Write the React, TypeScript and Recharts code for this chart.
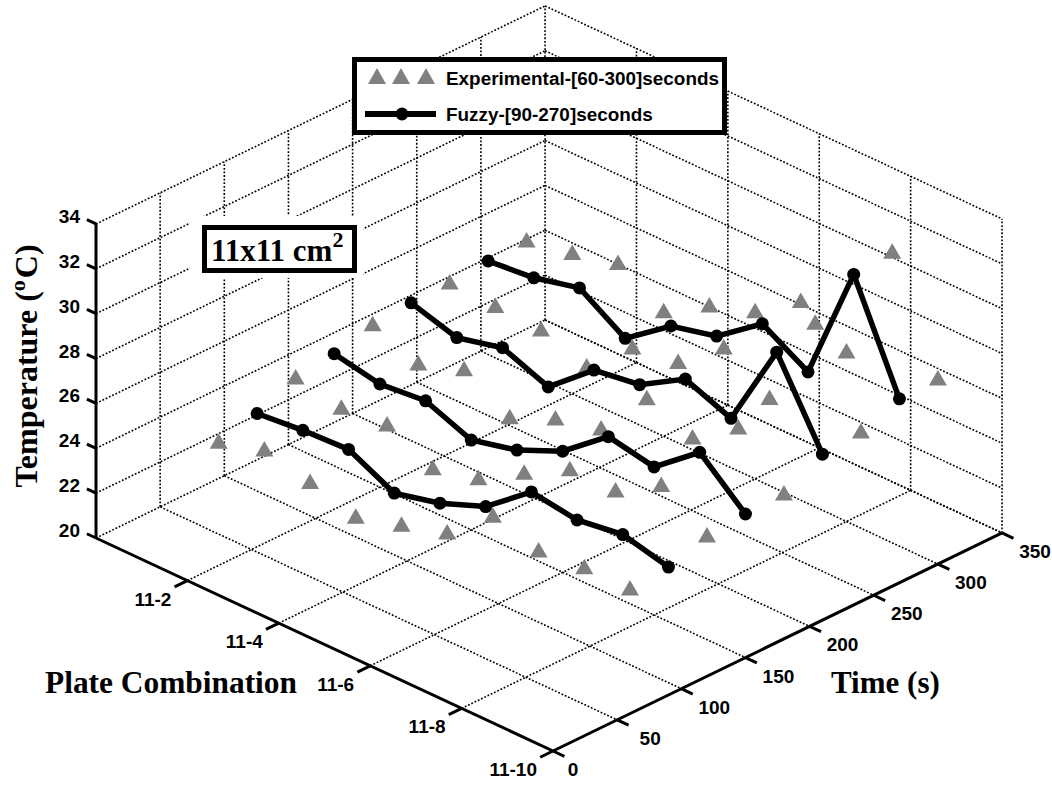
import React from 'react';
import { ScatterChart, Scatter, XAxis, YAxis, Legend } from 'recharts';

// plate number along one axis (11-1 ... 11-10)
const plates = [1, 2, 3, 4, 5, 6, 7, 8, 9, 10];

const exp60 = [23.6, 24.2, 23.7, 23.1, 23.7, 24.3, 26.0, 25.4, 25.6, 25.6];
const exp120 = [24.8, 24.4, 24.6, 23.6, 24.1, 25.3, 26.4, 26.4, 27.6, 26.3];
const exp180 = [25.5, 24.7, 25.4, 24.2, 25.1, 25.6, 27.9, 27.1, 28.5, 26.5];
const exp240 = [25.7, 25.6, 25.5, 24.8, 26.6, 26.9, 28.5, 27.2, 31.5, 27.6];
const exp300 = [25.9, 26.3, 26.8, 25.6, 26.8, 27.5, 28.9, 27.6, 33.0, 28.3];

const fuzzy90 = [24.0, 24.2, 24.3, 23.3, 23.8, 24.6, 26.2, 25.9, 26.2, 25.7];
const fuzzy150 = [25.0, 24.6, 24.8, 24.0, 24.5, 25.4, 27.0, 26.6, 28.2, 26.4];
const fuzzy210 = [25.6, 25.0, 25.5, 24.7, 26.4, 26.7, 27.9, 27.1, 31.0, 27.4];
const fuzzy270 = [25.8, 26.0, 26.5, 25.2, 26.7, 27.2, 28.7, 27.5, 32.8, 28.2];

const expTimes = [60, 120, 180, 240, 300];
const expSeries = [exp60, exp120, exp180, exp240, exp300];
const fuzzyTimes = [90, 150, 210, 270];
const fuzzySeries = [fuzzy90, fuzzy150, fuzzy210, fuzzy270];

const tempTicks = [20, 22, 24, 26, 28, 30, 32, 34];
const timeTicks = [0, 50, 100, 150, 200, 250, 300, 350];
const plateTicks = [2, 4, 6, 8, 10];
const plateLabels = ['11-2', '11-4', '11-6', '11-8', '11-10'];
const legendNames = ['Experimental-[60-300]seconds', 'Fuzzy-[90-270]seconds'];

const W = 1052;
const H = 785;
const serif = '"Liberation Serif", serif';
const sans = '"Liberation Sans", sans-serif';

// isometric projection of (plate, time, temperature) on the page
const project = (p: number, t: number, T: number) => ({
  x: 96 + 45.7 * p + 1.283 * t,
  y: 538 + 21.3 * p - 0.623 * t - 22.43 * (T - 20),
});

const seg = (a: number[], b: number[]) => [project(a[0], a[1], a[2]), project(b[0], b[1], b[2])];

const gridLines = [
  ...plateTicks.map((p) => seg([p, 0, 20], [p, 350, 20])),
  ...timeTicks.slice(1).map((t) => seg([0, t, 20], [10, t, 20])),
  ...tempTicks.map((T) => seg([0, 0, T], [0, 350, T])),
  ...timeTicks.slice(1).map((t) => seg([0, t, 20], [0, t, 34])),
  ...tempTicks.map((T) => seg([0, 350, T], [10, 350, T])),
  ...plateTicks.map((p) => seg([p, 350, 20], [p, 350, 34])),
];

const axisLines = [
  seg([0, 0, 20], [0, 0, 34]),
  seg([0, 0, 20], [10, 0, 20]),
  seg([10, 0, 20], [10, 350, 20]),
  ...tempTicks.map((T) => seg([0, 0, T], [-0.2, 0, T])),
  ...plateTicks.map((p) => seg([p, 0, 20], [p, -10, 20])),
  ...timeTicks.map((t) => seg([10, t, 20], [10.25, t, 20])),
];

const expData = expSeries.map((vals, i) => vals.map((T, j) => project(plates[j], expTimes[i], T)));
const fuzzyData = fuzzySeries.map((vals, i) => vals.map((T, j) => project(plates[j], fuzzyTimes[i], T)));

const shift = (o: { x: number; y: number }, dx: number, dy: number) => ({ x: o.x + dx, y: o.y + dy });

const tempLabels = tempTicks.map((T) => ({ ...shift(project(0, 0, T), -16, -1), label: String(T), anchor: 'end' }));
const plateTickLabels = plateTicks.map((p, i) => ({
  ...shift(project(p, 0, 20), -16, 25),
  label: plateLabels[i],
  anchor: 'end',
}));
const timeLabels = timeTicks.map((t) => ({
  ...shift(project(10, t, 20), t === 0 ? 20 : 33, 25),
  label: String(t),
  anchor: 'middle',
}));

const NoDot = () => <g />;

const Triangle = (props: any) => (
  <path d={`M${props.cx - 9},${props.cy + 7.5} L${props.cx},${props.cy - 8} L${props.cx + 9},${props.cy + 7.5} Z`} fill="#808080" />
);

const Dot = (props: any) => <circle cx={props.cx} cy={props.cy} r={6.5} fill="#000" />;

const TickText = (props: any) => (
  <text x={props.cx} y={props.cy} textAnchor={props.payload.anchor} fontFamily={sans} fontWeight="bold" fontSize={19} fill="#000">
    {props.payload.label}
  </text>
);

const LegendBox = () => (
  <svg width={375} height={78} style={{ display: 'block', background: '#fff' }}>
    <rect x={2.5} y={2.5} width={370} height={73} fill="#fff" stroke="#000" strokeWidth={5} />
    {[25, 49, 74].map((x) => (
      <path key={x} d={`M${x - 9},27 L${x},11 L${x + 9},27 Z`} fill="#808080" />
    ))}
    <line x1={13} x2={84} y1={57} y2={57} stroke="#000" strokeWidth={6} />
    <circle cx={50} cy={57} r={6.5} fill="#000" />
    <text x={94} y={28} fontFamily={sans} fontWeight="bold" fontSize={18.9}>{legendNames[0]}</text>
    <text x={94} y={64} fontFamily={sans} fontWeight="bold" fontSize={18.9}>{legendNames[1]}</text>
  </svg>
);

export default function App() {
  return (
    <div style={{ position: 'absolute', left: 0, top: 0, width: W, height: H, background: '#fff' }}>
      <ScatterChart width={W} height={H} margin={{ top: 0, right: 0, bottom: 0, left: 0 }}>
        <XAxis type="number" dataKey="x" domain={[0, W]} hide />
        <YAxis type="number" dataKey="y" domain={[0, H]} reversed hide />
        {gridLines.map((d, i) => (
          <Scatter key={'g' + i} data={d} shape={NoDot} legendType="none" isAnimationActive={false} fill="#000"
            line={{ stroke: '#000', strokeWidth: 1.6, strokeDasharray: '1.8 1.8' }} />
        ))}
        {axisLines.map((d, i) => (
          <Scatter key={'a' + i} data={d} shape={NoDot} legendType="none" isAnimationActive={false} fill="#000"
            line={{ stroke: '#000', strokeWidth: 3 }} />
        ))}
        {expData.map((d, i) => (
          <Scatter key={'e' + i} data={d} shape={Triangle} legendType="none" isAnimationActive={false} fill="#808080" />
        ))}
        {fuzzyData.map((d, i) => (
          <Scatter key={'f' + i} data={d} shape={Dot} legendType="none" isAnimationActive={false} fill="#000"
            line={{ stroke: '#000', strokeWidth: 5.5 }} />
        ))}
        <Scatter data={[...tempLabels, ...plateTickLabels, ...timeLabels]} shape={TickText} legendType="none" isAnimationActive={false} />
        <Legend
          layout="vertical"
          align="center"
          verticalAlign="middle"
          content={LegendBox}
          wrapperStyle={{ left: 352, top: 57, width: 375, height: 78, margin: 0 }}
        />
      </ScatterChart>

      <div style={{ position: 'absolute', left: 190, top: 216, width: 173, height: 62, background: '#fff' }} />
      <div
        style={{
          position: 'absolute', left: 202, top: 225, width: 155, height: 48, boxSizing: 'border-box',
          border: '5px solid #000', background: '#fff', fontFamily: serif, fontWeight: 'bold', fontSize: 31,
          lineHeight: '42px', whiteSpace: 'nowrap', paddingLeft: 4,
        }}
      >
        11x11 cm<span style={{ fontSize: 22, position: 'relative', top: -14 }}>2</span>
      </div>
      <div style={{ position: 'absolute', left: 45, top: 665, fontFamily: serif, fontWeight: 'bold', fontSize: 31.4, lineHeight: '36px', whiteSpace: 'nowrap' }}>
        Plate Combination
      </div>
      <div style={{ position: 'absolute', left: 831, top: 665, fontFamily: serif, fontWeight: 'bold', fontSize: 31, lineHeight: '36px', whiteSpace: 'nowrap' }}>
        Time (s)
      </div>
      <div
        style={{
          position: 'absolute', left: 28, top: 366, fontFamily: serif, fontWeight: 'bold', fontSize: 32, lineHeight: '36px',
          whiteSpace: 'nowrap', transform: 'translate(-50%, -50%) rotate(-90deg)',
        }}
      >
        Temperature (<span style={{ fontSize: 22, position: 'relative', top: -12, marginRight: 2 }}>o</span>C)
      </div>
    </div>
  );
}
